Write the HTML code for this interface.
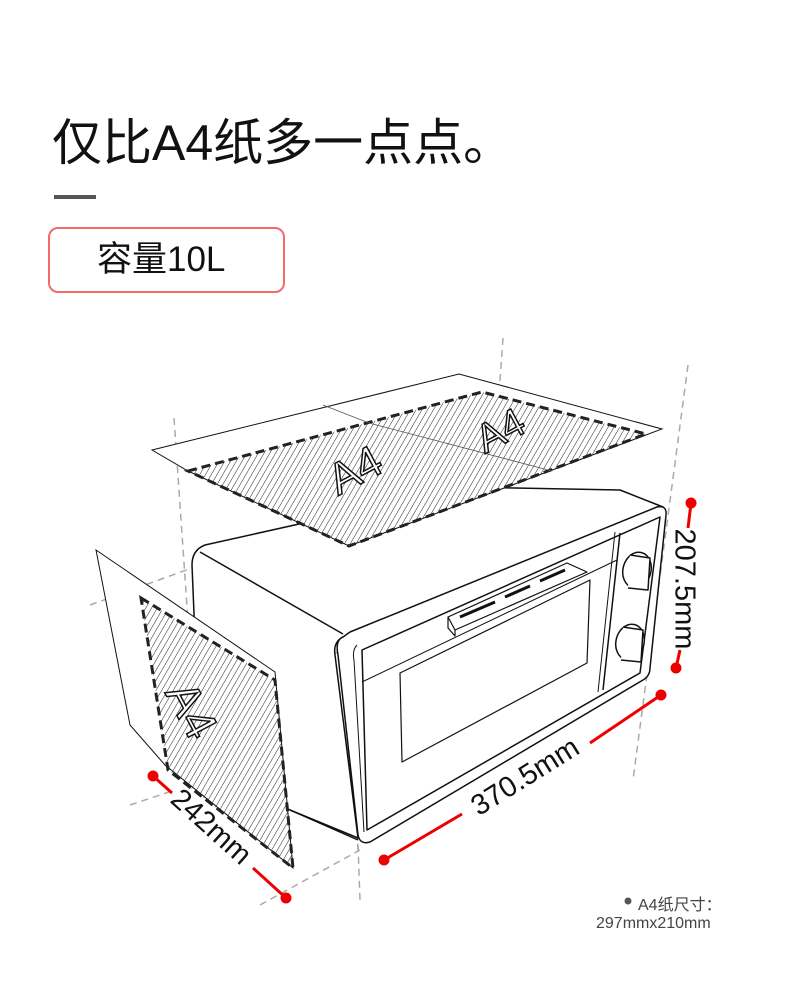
<!DOCTYPE html>
<html><head><meta charset="utf-8"><style>
html,body{margin:0;padding:0;background:#fff;}
body{width:790px;height:1005px;position:relative;overflow:hidden;font-family:"Liberation Sans","Noto Sans CJK SC",sans-serif;}
.t{position:absolute;left:52px;top:108px;font-size:50px;letter-spacing:0px;color:#111;line-height:70px;white-space:nowrap;}
.bar{position:absolute;left:54px;top:195px;width:42px;height:4px;background:#555;}
.box{position:absolute;left:48px;top:227px;width:233px;height:62px;border:2.5px solid #f46a6a;border-radius:10px;}
.box span{position:absolute;left:47px;top:10px;font-size:35px;line-height:42px;color:#111;white-space:nowrap;}
.n{position:absolute;font-size:16px;color:#444;white-space:nowrap;}
svg{position:absolute;left:0;top:0;}
</style></head><body>
<div class="t">仅比A4纸多一点点。</div>
<div class="bar"></div>
<div class="box"><span>容量10L</span></div>
<svg width="790" height="1005" viewBox="0 0 790 1005">
<defs>
<pattern id="h" width="5" height="5" patternUnits="userSpaceOnUse" patternTransform="rotate(30)">
<line x1="0" y1="0" x2="0" y2="5" stroke="#222" stroke-width="1"/>
</pattern>
</defs>
<g stroke="#aaa" stroke-width="1.5" stroke-dasharray="7,5" fill="none">
<line x1="174" y1="418" x2="190" y2="650"/>
<line x1="503" y1="338" x2="498" y2="408"/>
<line x1="688" y1="365" x2="633" y2="780"/>
<line x1="347" y1="545" x2="360" y2="900"/>
<line x1="90" y1="605" x2="200" y2="565"/>
<line x1="275" y1="672" x2="345" y2="650"/>
<line x1="130" y1="805" x2="175" y2="790"/>
<line x1="260" y1="905" x2="360" y2="850"/>
<line x1="350" y1="700" x2="358" y2="850"/>
</g>
<g stroke="#111" fill="#fff" stroke-width="1.5" stroke-linejoin="round">
<path d="M205,545 L465,487 L620,490 L663,507 L343,637 Q333,642 335,655 L358,838 L290,810 L200,760 L192,565 Q192,550 205,545 Z"/>
<path d="M200,552 L343,634" fill="none"/>
<path d="M343,637 Q335,640 338,655 L358,835 Q360,845 370,842 L643,680 Q650,676 650,668 L666,515 Q667,505 657,507 L350,632 Z"/>
<path d="M362,650 L660,517 L640,673 L367,830 Z" fill="none"/>
<path d="M357,645 Q352,650 354,660 L364,832" fill="none" stroke-width="1"/>
<line x1="620" y1="533" x2="603" y2="690"/>
<line x1="615" y1="532" x2="598" y2="692" stroke-width="1"/>
<line x1="362" y1="682" x2="617" y2="560" stroke-width="1"/>
<path d="M400,673 L590,580 L587,663 L402,762 Z" fill="none" stroke-width="1.2"/>
<path d="M448,617 L567,563 L587,572 L455,630 Z" stroke-width="1.2"/>
<path d="M448,617 L448,628 L455,636 L455,630" fill="none" stroke-width="1.2"/>
<path d="M460,617 L495,602 M505,597 L530,586 M540,581 L565,570" stroke-width="3"/>
<ellipse cx="637" cy="570" rx="14" ry="18" transform="rotate(15 637 570)"/>
<path d="M630,555 L650,558 L648,590 L628,588" />
<ellipse cx="630" cy="642" rx="14" ry="18" transform="rotate(15 630 642)"/>
<path d="M623,627 L643,630 L641,662 L621,660"/>
<line x1="290" y1="810" x2="358" y2="840"/>
</g>
<polygon points="152,450 459,374 662,429 349,546 188,471" fill="#fff" stroke="#111" stroke-width="1"/>
<polygon points="188,471 482,392 646,434 349,546" fill="url(#h)" stroke="#222" stroke-width="3" stroke-dasharray="9,5"/>
<polyline points="323,405 369,423 552,471" fill="none" stroke="#555" stroke-width="0.8"/>
<text x="355" y="485" font-size="44" font-family="Liberation Sans,sans-serif" fill="#fff" stroke="#111" stroke-width="1.5" transform="rotate(-28 355 470)" text-anchor="middle">A4</text>
<text x="500" y="444" font-size="40" font-family="Liberation Sans,sans-serif" fill="#fff" stroke="#111" stroke-width="1.5" transform="rotate(-28 500 430)" text-anchor="middle">A4</text>
<polygon points="96,550 275,672 293,868 165,765 130,725" fill="#fff" stroke="#111" stroke-width="1"/>
<polygon points="141,598 275,680 293,868 168,770" fill="url(#h)" stroke="#222" stroke-width="3" stroke-dasharray="9,5"/>
<text x="192" y="726" font-size="46" font-family="Liberation Sans,sans-serif" fill="#fff" stroke="#111" stroke-width="1.5" transform="rotate(62 192 710)" text-anchor="middle">A4</text>
<g stroke="#e00" stroke-width="3" fill="#e00">
<line x1="691" y1="503" x2="688" y2="528"/><circle cx="691" cy="503" r="4"/>
<line x1="680" y1="650" x2="676" y2="668"/><circle cx="676" cy="668" r="4"/>
<line x1="384" y1="860" x2="462" y2="814"/><circle cx="384" cy="860" r="4"/>
<line x1="590" y1="743" x2="661" y2="695"/><circle cx="661" cy="695" r="4"/>
<line x1="153" y1="776" x2="172" y2="793"/><circle cx="153" cy="776" r="4"/>
<line x1="253" y1="868" x2="286" y2="898"/><circle cx="286" cy="898" r="4"/>
</g>
<g font-family="Liberation Sans,sans-serif" fill="#111" font-size="29">
<text x="683" y="589" transform="rotate(90 683 589)" text-anchor="middle" dominant-baseline="middle">207.5mm</text>
<text x="526" y="778" transform="rotate(-32 526 778)" text-anchor="middle" dominant-baseline="middle">370.5mm</text>
<text x="210" y="828" transform="rotate(42 210 828)" text-anchor="middle" dominant-baseline="middle">242mm</text>
</g>
<circle cx="628" cy="901" r="3.5" fill="#555"/>
</svg>
<div class="n" style="left:638px;top:891px;">A4纸尺寸：</div>
<div class="n" style="left:596px;top:915px;">297mmx210mm</div>
</body></html>
